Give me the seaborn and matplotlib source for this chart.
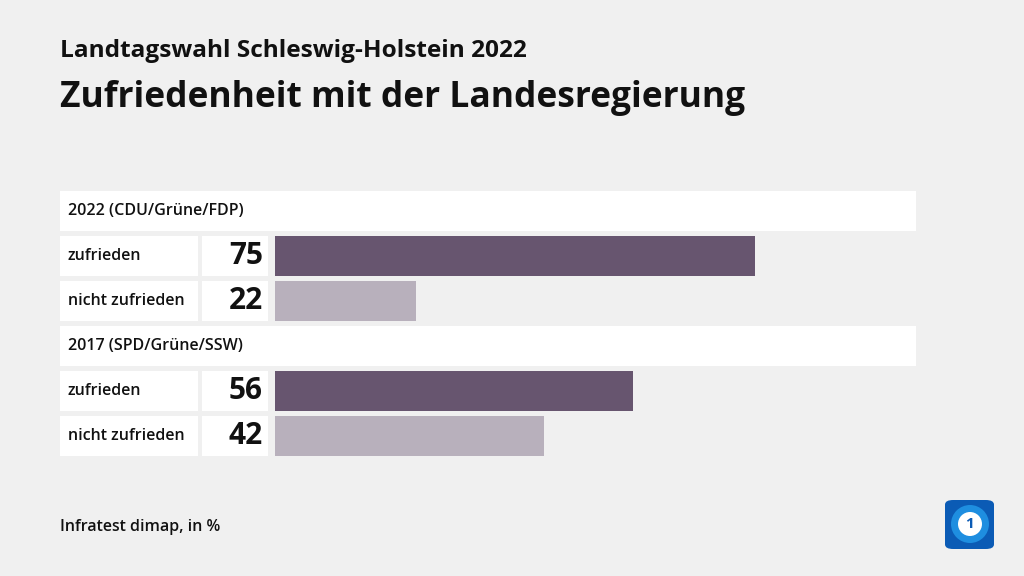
import matplotlib
matplotlib.use("Agg")
import matplotlib.pyplot as plt
import matplotlib.transforms as mtransforms
from matplotlib.patches import Rectangle, FancyBboxPatch, Ellipse
import pandas as pd
import seaborn as sns

# data
groups = ["2022 (CDU/Grüne/FDP)", "2017 (SPD/Grüne/SSW)"]
categories = ["zufrieden", "nicht zufrieden"]
values_2022 = [75, 22]
values_2017 = [56, 42]

title = "Zufriedenheit mit der Landesregierung"
subtitle = "Landtagswahl Schleswig-Holstein 2022"
source = "Infratest dimap, in %"

sns.set_theme(style="white")
plt.rcParams["font.family"] = ["Open Sans", "DejaVu Sans"]

BG = "#f0f0f0"
colors = {"zufrieden": "#67556f", "nicht zufrieden": "#b8b0bc"}

# table with one row per bar; header rows only exist in the order
rows = []
row_order = []
for g, vals in zip(groups, [values_2022, values_2017]):
    row_order.append("header|" + g)
    for c, v in zip(categories, vals):
        rid = g + "|" + c
        row_order.append(rid)
        rows.append({"row": rid, "gruppe": g, "kategorie": c, "wert": v})
df = pd.DataFrame(rows)

W, H = 1024, 576
fig = plt.figure(figsize=(W / 100, H / 100), dpi=100)
fig.patch.set_facecolor(BG)

pitch = 45
top = 191 - 2.5
n = len(row_order)
ax = fig.add_axes([275 / W, 1 - (top + n * pitch) / H, 640 / W, n * pitch / H])
ax.set_facecolor("none")

sns.barplot(
    data=df, x="wert", y="row", hue="kategorie", order=row_order,
    palette=colors, dodge=False, width=40 / pitch, errorbar=None,
    legend=False, saturation=1, linewidth=0, ax=ax
)
ax.set_xlim(0, 100)
ax.set_ylim(n - 0.5, -0.5)
ax.axis("off")

trans = mtransforms.blended_transform_factory(fig.transFigure, ax.transData)
half = 20 / pitch


def cell(x0, x1, i):
    ax.add_patch(Rectangle((x0 / W, i - half), (x1 - x0) / W, 2 * half,
                           transform=trans, facecolor="white",
                           edgecolor="none", clip_on=False, zorder=0))


for i, rid in enumerate(row_order):
    if rid.startswith("header|"):
        cell(60, 916, i)
        ax.text(68 / W, i, rid.split("|")[1], transform=trans, va="center",
                ha="left", fontsize=11.5, fontweight="semibold", color="#111111")
    else:
        g, c = rid.split("|")
        v = df.loc[df["row"] == rid, "wert"].iloc[0]
        cell(60, 198, i)
        cell(202, 268, i)
        ax.text(68 / W, i, c, transform=trans, va="center", ha="left",
                fontsize=11.5, fontweight="semibold", color="#111111")
        ax.text(263 / W, i, f"{v}", transform=trans, va="center", ha="right",
                fontsize=21.5, fontweight="bold", color="#111111")

fig.text(60 / W, 1 - 51 / H, subtitle, fontsize=17.6, fontweight="bold",
         va="center", ha="left", color="#111111")
fig.text(60 / W, 1 - 98 / H, title, fontsize=25.5, fontweight="bold",
         va="center", ha="left", color="#111111")
fig.text(60 / W, 1 - 527 / H, source, fontsize=11.5, fontweight="semibold",
         va="center", ha="left", color="#111111")

# logo
lx, ly, ls = 945 / W, 1 - 549 / H, 49
logo = FancyBboxPatch((lx, ly), ls / W, ls / H, boxstyle="round,pad=0,rounding_size=0.008",
                      transform=fig.transFigure, facecolor="#0b5bb5", edgecolor="none")
fig.add_artist(logo)
cx, cy = 970 / W, 1 - 524 / H
fig.add_artist(Ellipse((cx, cy), 38 / W, 38 / H, transform=fig.transFigure,
                       facecolor="#1e8ee0", edgecolor="none"))
fig.add_artist(Ellipse((cx, cy), 24 / W, 24 / H, transform=fig.transFigure,
                       facecolor="white", edgecolor="none"))
fig.text(cx, cy, "1", fontsize=11, fontweight="bold",
         color="#0b5bb5", ha="center", va="center")

fig.savefig("out.png", dpi=100, facecolor=BG)
